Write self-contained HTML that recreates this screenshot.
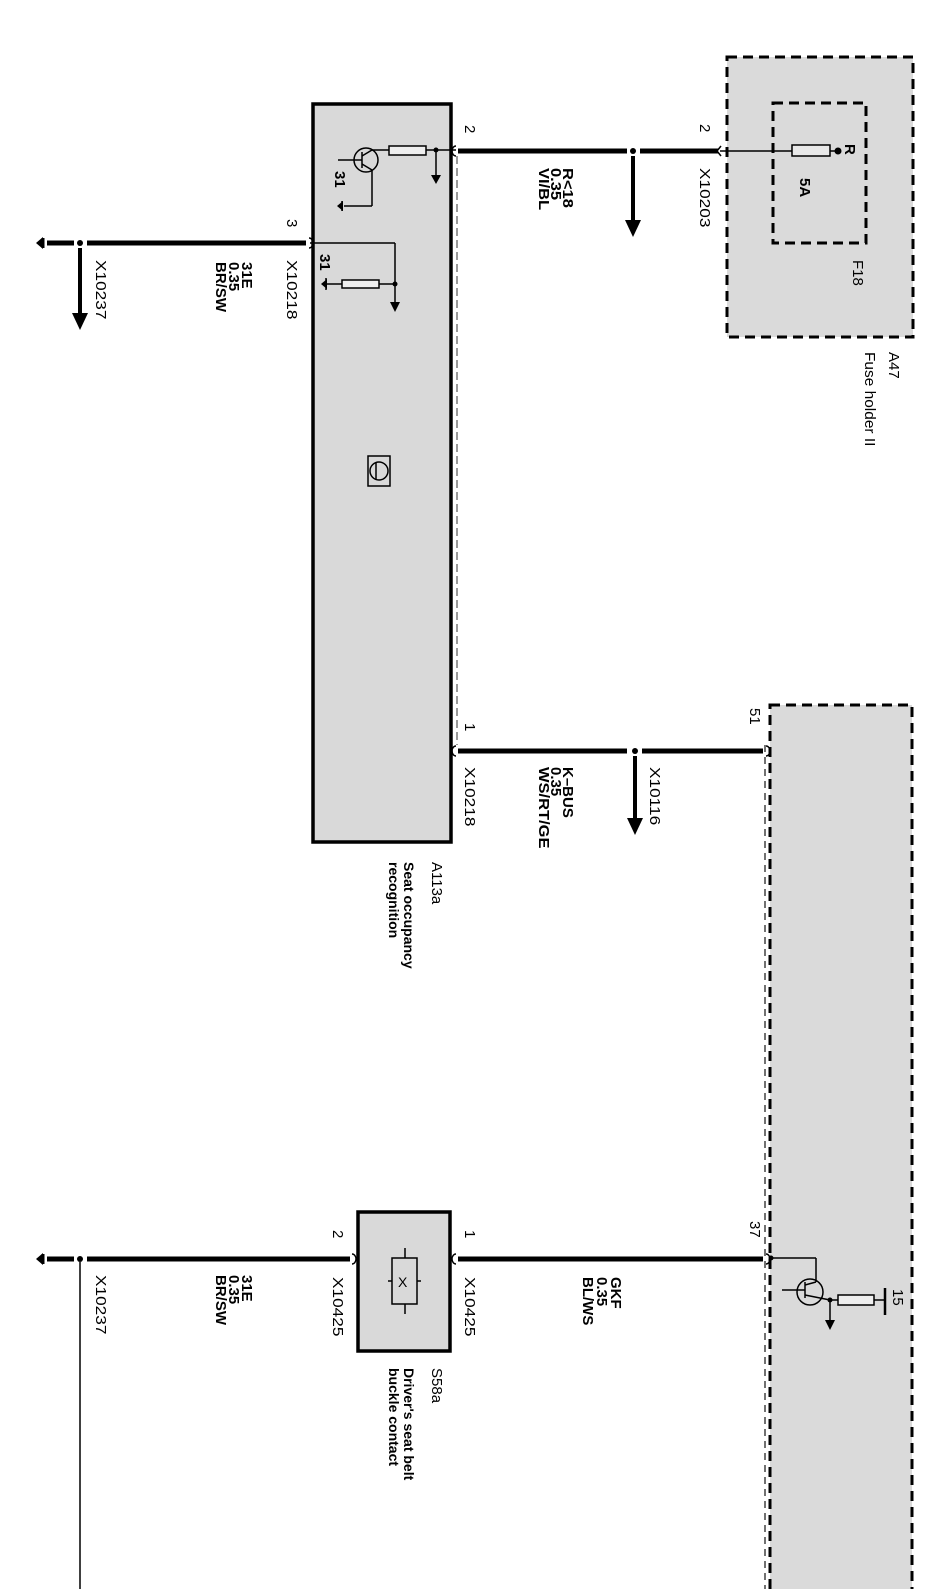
<!DOCTYPE html>
<html><head><meta charset="utf-8"><style>
html,body{margin:0;padding:0;background:#fff;}
svg{display:block;}
text{font-family:"Liberation Sans",sans-serif;font-size:15px;fill:#000;}
.b{font-weight:bold;}
</style></head><body>
<svg width="948" height="1589" viewBox="0 0 948 1589" xmlns="http://www.w3.org/2000/svg">
<rect width="948" height="1589" fill="#fff"/>

<!-- Fuse holder A47 -->
<rect x="727" y="57" width="186" height="280" fill="#dadada" stroke="#000" stroke-width="3" stroke-dasharray="10,6"/>
<rect x="773" y="103" width="93" height="140" fill="none" stroke="#000" stroke-width="3" stroke-dasharray="10,6"/>
<line x1="720" y1="151" x2="792" y2="151" stroke="#000" stroke-width="1.5"/>
<rect x="792" y="145" width="38" height="11" fill="#e8e8e8" stroke="#000" stroke-width="1.5"/>
<line x1="830" y1="151" x2="838" y2="151" stroke="#000" stroke-width="1.5"/>
<circle cx="838" cy="151" r="3.5" fill="#000"/>

<!-- Lower big dashed module -->
<rect x="770" y="705" width="142" height="900" fill="#dadada" stroke="#000" stroke-width="3" stroke-dasharray="10,6"/>
<line x1="765" y1="745" x2="765" y2="1589" stroke="#444" stroke-width="1.5" stroke-dasharray="7,5"/>

<!-- A113a box -->
<rect x="313" y="104" width="138" height="738" fill="#d9d9d9" stroke="#000" stroke-width="3.5"/>
<line x1="457" y1="156" x2="457" y2="745" stroke="#999" stroke-width="2" stroke-dasharray="8,4"/>

<!-- S58a box -->
<rect x="358" y="1212" width="92" height="139" fill="#d9d9d9" stroke="#000" stroke-width="3.5"/>
<rect x="392" y="1258" width="25" height="46" fill="none" stroke="#000" stroke-width="1.5"/>
<line x1="405" y1="1248" x2="405" y2="1258" stroke="#000" stroke-width="1.5"/>
<line x1="405" y1="1304" x2="405" y2="1314" stroke="#000" stroke-width="1.5"/>
<line x1="388" y1="1281" x2="392" y2="1281" stroke="#000" stroke-width="1.5"/>
<line x1="417" y1="1281" x2="421" y2="1281" stroke="#000" stroke-width="1.5"/>
<text x="398" y="1287" style="font-size:14px">X</text>

<!-- Thick wires -->
<g stroke="#000" stroke-width="5">
<line x1="458" y1="151" x2="627" y2="151"/>
<line x1="640" y1="151" x2="718" y2="151"/>
<line x1="458" y1="751" x2="627" y2="751"/>
<line x1="642" y1="751" x2="763" y2="751"/>
<line x1="47" y1="243" x2="74" y2="243"/>
<line x1="87" y1="243" x2="306" y2="243"/>
<line x1="458" y1="1259" x2="763" y2="1259"/>
<line x1="47" y1="1259" x2="74" y2="1259"/>
<line x1="87" y1="1259" x2="350" y2="1259"/>
</g>
<!-- junction dots -->
<g fill="#000">
<circle cx="633" cy="151" r="3"/>
<circle cx="635" cy="751" r="3"/>
<circle cx="80" cy="243" r="3"/>
<circle cx="80" cy="1259" r="3"/>
</g>
<!-- down arrows -->
<g stroke="#000" stroke-width="4">
<line x1="633" y1="156" x2="633" y2="222"/>
<line x1="635" y1="756" x2="635" y2="820"/>
<line x1="80" y1="248" x2="80" y2="315"/>
</g>
<polygon points="625,220 641,220 633,237" fill="#000"/>
<polygon points="627,818 643,818 635,835" fill="#000"/>
<polygon points="72,313 88,313 80,330" fill="#000"/>
<line x1="80" y1="1262" x2="80" y2="1589" stroke="#000" stroke-width="1.5"/>
<!-- ground ends -->
<polygon points="36,243 43,237 43,249" fill="#000"/>
<line x1="43" y1="238" x2="43" y2="248" stroke="#000" stroke-width="3"/>
<polygon points="36,1259 43,1253 43,1265" fill="#000"/>
<line x1="43" y1="1254" x2="43" y2="1264" stroke="#000" stroke-width="3"/>

<!-- pins (small open arcs) -->
<g fill="none" stroke="#000" stroke-width="1.5">
<path d="M456,146 a4,5 0 0 0 0,10"/>
<path d="M721,146 l-4,5 l4,5"/>
<path d="M456,746 a4,5 0 0 0 0,10"/>
<path d="M766,746 a4,5 0 0 1 0,10"/>
<path d="M309,238 a4,5 0 0 1 0,10"/>
<path d="M456,1254 a4,5 0 0 0 0,10"/>
<path d="M352,1254 a4,5 0 0 1 0,10"/>
<path d="M766,1254 a4,5 0 0 1 0,10"/>
</g>

<!-- A113a internal circuit top -->
<g stroke="#000" stroke-width="1.5" fill="none">
<circle cx="366" cy="160" r="12"/>
<line x1="338" y1="160" x2="362" y2="160"/>
<line x1="362" y1="152" x2="362" y2="168"/>
<line x1="362" y1="156" x2="372" y2="150"/>
<line x1="362" y1="164" x2="372" y2="170"/>
<line x1="372" y1="150" x2="389" y2="150"/>
<rect x="389" y="146" width="37" height="9" fill="#eee"/>
<line x1="426" y1="150" x2="456" y2="150"/>
<line x1="436" y1="150" x2="436" y2="176"/>
<line x1="372" y1="170" x2="372" y2="206"/>
<line x1="372" y1="206" x2="344" y2="206"/>
<line x1="342" y1="201" x2="342" y2="211"/>
<!-- pin 3 circuit -->
<line x1="310" y1="243" x2="395" y2="243"/>
<line x1="395" y1="243" x2="395" y2="303"/>
<line x1="395" y1="284" x2="379" y2="284"/>
<rect x="342" y="280" width="37" height="8" fill="#eee"/>
<line x1="342" y1="284" x2="327" y2="284"/>
<line x1="326" y1="278" x2="326" y2="290"/>
<rect x="368" y="456" width="22" height="30"/>
<circle cx="379" cy="471" r="9"/>
<line x1="376" y1="463" x2="376" y2="479"/>
</g>
<circle cx="436" cy="150" r="2.5" fill="#000"/>
<polygon points="431,175 441,175 436,184" fill="#000"/>
<polygon points="337,206 343,201 343,211" fill="#000"/>
<circle cx="395" cy="284" r="2.5" fill="#000"/>
<polygon points="390,302 400,302 395,312" fill="#000"/>
<polygon points="321,284 327,279 327,289" fill="#000"/>

<!-- lower module circuit -->
<g stroke="#000" stroke-width="1.5" fill="none">
<line x1="770" y1="1258" x2="816" y2="1258"/>
<line x1="816" y1="1258" x2="816" y2="1282"/>
<circle cx="810" cy="1292" r="13"/>
<line x1="782" y1="1290" x2="805" y2="1290"/>
<line x1="805" y1="1282" x2="805" y2="1298"/>
<line x1="805" y1="1285" x2="816" y2="1282"/>
<line x1="805" y1="1295" x2="830" y2="1300"/>
<line x1="830" y1="1300" x2="838" y2="1300"/>
<line x1="830" y1="1300" x2="830" y2="1322"/>
<rect x="838" y="1295" width="36" height="10" fill="#eee"/>
<line x1="874" y1="1300" x2="885" y2="1300"/>
<line x1="885" y1="1288" x2="885" y2="1315" stroke-width="2.5"/>
</g>
<circle cx="830" cy="1300" r="2.5" fill="#000"/>
<circle cx="771" cy="1258" r="2.5" fill="#000"/>
<polygon points="825,1320 835,1320 830,1330" fill="#000"/>

<!-- Labels (rotated 90deg clockwise) -->
<g>
<text transform="translate(465,125) rotate(90)">2</text>
<text class="b" transform="translate(563,168) rotate(90) scale(1.1,1)">R&lt;18</text>
<text class="b" transform="translate(551,168) rotate(90) scale(1.1,1)">0.35</text>
<text class="b" transform="translate(539,168) rotate(90) scale(1.1,1)">VI/BL</text>
<text transform="translate(700,124) rotate(90)">2</text>
<text transform="translate(700,168) rotate(90) scale(1.15,1)">X10203</text>
<text class="b" transform="translate(845,144) rotate(90)">R</text>
<text class="b" transform="translate(800,178) rotate(90)">5A</text>
<text transform="translate(853,260) rotate(90)">F18</text>
<text transform="translate(889,352) rotate(90)">A47</text>
<text transform="translate(865,352) rotate(90) scale(1.03,1)">Fuse holder II</text>

<text class="b" transform="translate(335,171) rotate(90)">31</text>
<text class="b" transform="translate(320,254) rotate(90)">31</text>
<text transform="translate(287,219) rotate(90)">3</text>
<text transform="translate(287,260) rotate(90) scale(1.15,1)">X10218</text>
<text class="b" transform="translate(242,262) rotate(90)">31E</text>
<text class="b" transform="translate(229,262) rotate(90)">0.35</text>
<text class="b" transform="translate(216,262) rotate(90)">BR/SW</text>
<text transform="translate(96,260) rotate(90) scale(1.15,1)">X10237</text>

<text transform="translate(465,723) rotate(90)">1</text>
<text transform="translate(465,767) rotate(90) scale(1.15,1)">X10218</text>
<text class="b" transform="translate(563,767) rotate(90)">K–BUS</text>
<text class="b" transform="translate(551,767) rotate(90)">0.35</text>
<text class="b" transform="translate(539,767) rotate(90) scale(1.1,1)">WS/RT/GE</text>
<text transform="translate(650,767) rotate(90) scale(1.15,1)">X10116</text>
<text transform="translate(750,708) rotate(90)">51</text>
<text transform="translate(432,862) rotate(90)">A113a</text>
<text class="b" transform="translate(404,862) rotate(90)" style="font-size:14px">Seat occupancy</text>
<text class="b" transform="translate(389,862) rotate(90)" style="font-size:14px">recognition</text>

<text transform="translate(750,1221) rotate(90)">37</text>
<text class="b" transform="translate(611,1277) rotate(90)">GKF</text>
<text class="b" transform="translate(597,1277) rotate(90)">0.35</text>
<text class="b" transform="translate(583,1277) rotate(90)">BL/WS</text>
<text transform="translate(893,1289) rotate(90)">15</text>
<text transform="translate(465,1230) rotate(90)">1</text>
<text transform="translate(465,1277) rotate(90) scale(1.15,1)">X10425</text>
<text transform="translate(333,1230) rotate(90)">2</text>
<text transform="translate(333,1277) rotate(90) scale(1.15,1)">X10425</text>
<text transform="translate(432,1368) rotate(90)">S58a</text>
<text class="b" transform="translate(404,1368) rotate(90)" style="font-size:14px">Driver's seat belt</text>
<text class="b" transform="translate(389,1368) rotate(90)" style="font-size:14px">buckle contact</text>
<text class="b" transform="translate(242,1275) rotate(90)">31E</text>
<text class="b" transform="translate(229,1275) rotate(90)">0.35</text>
<text class="b" transform="translate(216,1275) rotate(90)">BR/SW</text>
<text transform="translate(96,1275) rotate(90) scale(1.15,1)">X10237</text>
</g>
</svg>
</body></html>
